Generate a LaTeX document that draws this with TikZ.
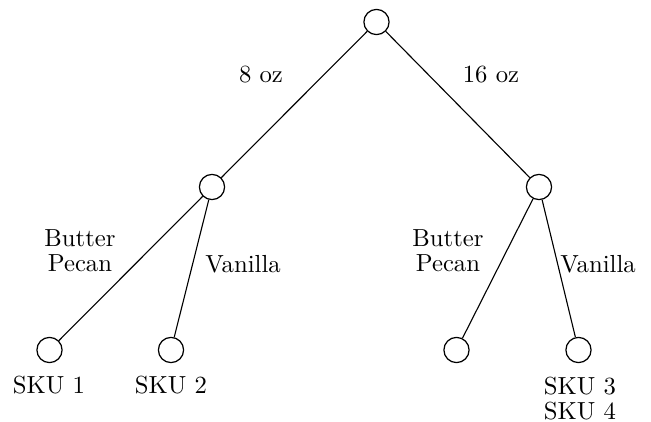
\documentclass[tikz,border=0pt]{standalone}
\begin{document}
\begin{tikzpicture}[x=0.405pt,y=-0.405pt,
  vert/.style={circle,draw,line width=0.5pt,minimum size=10.2pt,inner sep=0pt},
  edge/.style={line width=0.45pt},
  lab/.style={inner sep=0pt,anchor=base},
  lab2/.style={inner sep=0pt,anchor=north,align=center,font=\fontsize{10pt}{10pt}\selectfont}]
\useasboundingbox (0,0) rectangle (651,422);
\node[vert] (r) at (376.5,22) {};
\node[vert] (a) at (212,187) {};
\node[vert] (b) at (539,187) {};
\node[vert] (a1) at (49.5,350) {};
\node[vert] (a2) at (171,350) {};
\node[vert] (b1) at (456.5,350) {};
\node[vert] (b2) at (578.5,350) {};
\draw[edge] (r) -- (a);
\draw[edge] (r) -- (b);
\draw[edge] (a) -- (a1);
\draw[edge] (a) -- (a2);
\draw[edge] (b) -- (b1);
\draw[edge] (b) -- (b2);
\node[lab] (l8) at (261,83) {8 oz};
\node[lab] (l16) at (491,83) {16 oz};
\node[lab2] (bpa) at (80,229) {Butter\\Pecan};
\node[lab] (va) at (243,272) {Vanilla};
\node[lab2] (bpb) at (448,229) {Butter\\Pecan};
\node[lab] (vb) at (598,272) {Vanilla};
\node[lab] (s1) at (49,393) {SKU 1};
\node[lab] (s2) at (171,393) {SKU 2};
\node[lab2] (s34) at (580,376.5) {SKU 3\\SKU 4};
\end{tikzpicture}
\end{document}
